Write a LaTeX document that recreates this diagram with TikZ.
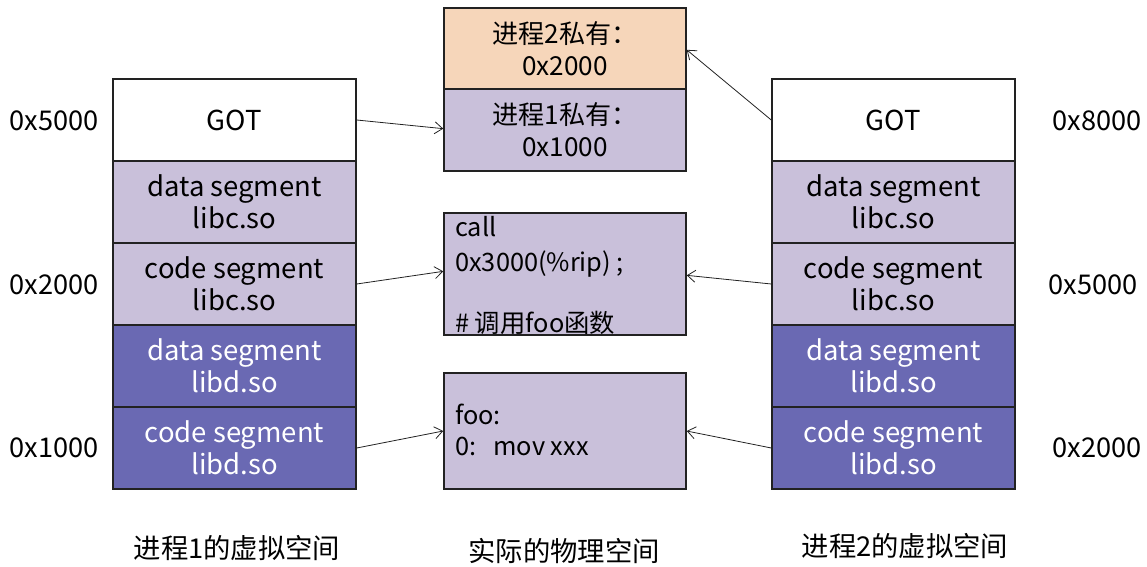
\documentclass[tikz,border=0pt]{standalone}
\usepackage{fontspec}
\setmainfont{Noto Sans CJK SC}
\usetikzlibrary{arrows.meta}
\definecolor{lav}{HTML}{C9C0DA}
\definecolor{deep}{HTML}{6A69B3}
\definecolor{peach}{HTML}{F6D6BA}
\definecolor{edge}{HTML}{222222}
\tikzset{
  seg/.style={draw=edge, line width=1.1pt, minimum width=182.25pt, minimum height=61.5pt,
    inner sep=0pt, align=center, font=\fontsize{20.6}{24}\selectfont},
  light/.style={seg, fill=lav},
  dark/.style={seg, fill=deep, text=white},
  phys/.style={seg, fill=lav, minimum width=181.5pt, font=\fontsize{19.6}{24}\selectfont},
  addr/.style={font=\fontsize{20.4}{24}\selectfont},
  caption/.style={font=\fontsize{20.5}{24}\selectfont},
  code/.style={anchor=west, inner sep=0pt, font=\fontsize{19}{24}\selectfont},
  link/.style={draw=edge, line width=0.6pt, -{Straight Barb[length=6pt,width=9pt]}}
}
\begin{document}
\begin{tikzpicture}[x=0.75pt,y=-0.75pt]
\useasboundingbox (0,0) rectangle (1147,567);

% process 1 virtual address space
\node[seg, fill=white] (l1) at (234.5,120) {GOT};
\node[light] (l2) at (234.5,202) {data segment\\libc.so};
\node[light] (l3) at (234.5,284) {code segment\\libc.so};
\node[dark]  (l4) at (234.5,366) {data segment\\libd.so};
\node[dark]  (l5) at (234.5,448) {code segment\\libd.so};

% process 2 virtual address space
\node[seg, fill=white] (r1) at (893.5,120) {GOT};
\node[light] (r2) at (893.5,202) {data segment\\libc.so};
\node[light] (r3) at (893.5,284) {code segment\\libc.so};
\node[dark]  (r4) at (893.5,366) {data segment\\libd.so};
\node[dark]  (r5) at (893.5,448) {code segment\\libd.so};

% physical memory
\node[phys, fill=peach, minimum height=60.75pt] (p2) at (565,48.5) {进程2私有：\\0x2000};
\node[phys, minimum height=61.5pt] (p1) at (565,130) {进程1私有：\\0x1000};
\node[phys, minimum height=91.5pt] (pc) at (565,274) {};
\node[code] (c1) at (455,227) {call};
\node[code] (c2) at (455,264) {0x3000(\%rip) ;};
\node[code] (c3) at (455,323) {\#\ 调用foo函数};
\node[phys, minimum height=87pt] (pf) at (565,431) {};
\node[code] (f1) at (455,414) {foo:};
\node[code] (f2) at (455,446) {0:\ \ \ mov xxx};

% addresses
\node[addr] (a1) at (54,121) {0x5000};
\node[addr] (a2) at (54,285) {0x2000};
\node[addr] (a3) at (54,448) {0x1000};
\node[addr] (b1) at (1097,121) {0x8000};
\node[addr] (b2) at (1093,285) {0x5000};
\node[addr] (b3) at (1097,448) {0x2000};

% captions
\node[caption] (t1) at (237,548) {进程1的虚拟空间};
\node[caption] (t2) at (564,551) {实际的物理空间};
\node[caption] (t3) at (905,546) {进程2的虚拟空间};

% mappings
\draw[link] (l1.east) -- ([yshift=1pt]p1.west);
\draw[link] (r1.west) -- ([yshift=-1pt]p2.east);
\draw[link] (l3.east) -- ([yshift=2pt]pc.west);
\draw[link] (r3.west) -- ([yshift=-1pt]pc.east);
\draw[link] (l5.east) -- (pf.west);
\draw[link] (r5.west) -- (pf.east);
\end{tikzpicture}
\end{document}
